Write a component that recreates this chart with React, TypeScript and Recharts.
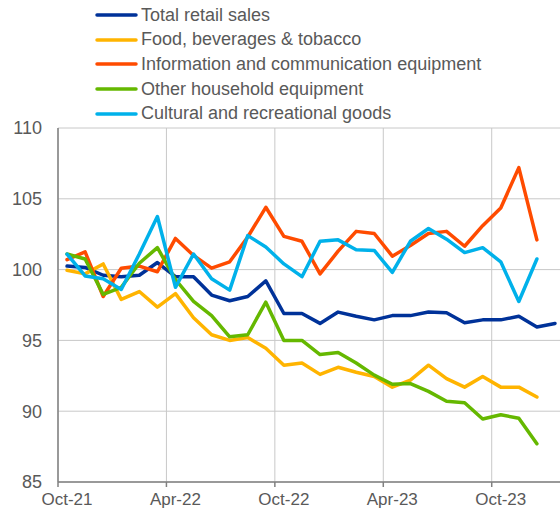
import React from 'react';
import { LineChart, Line, XAxis, YAxis, CartesianGrid, Legend } from 'recharts';

const months = [
  'Oct-21', 'Nov-21', 'Dec-21', 'Jan-22', 'Feb-22', 'Mar-22', 'Apr-22', 'May-22', 'Jun-22', 'Jul-22',
  'Aug-22', 'Sep-22', 'Oct-22', 'Nov-22', 'Dec-22', 'Jan-23', 'Feb-23', 'Mar-23', 'Apr-23', 'May-23',
  'Jun-23', 'Jul-23', 'Aug-23', 'Sep-23', 'Oct-23', 'Nov-23', 'Dec-23', 'Jan-24',
];

const tickLabels = ['Oct-21', 'Apr-22', 'Oct-22', 'Apr-23', 'Oct-23'];
const yTicks = [85, 90, 95, 100, 105, 110];

const totalRetail = [
  100.25, 100.15, 99.6, 99.5, 99.6, 100.5, 99.5, 99.5, 98.2, 97.8,
  98.1, 99.2, 96.9, 96.9, 96.2, 97.0, 96.7, 96.45, 96.75, 96.75,
  97.0, 96.95, 96.25, 96.45, 96.45, 96.7, 95.95, 96.2,
];

const food = [
  99.95, 99.7, 100.4, 97.9, 98.45, 97.35, 98.3, 96.6, 95.4, 95.0,
  95.2, 94.45, 93.25, 93.4, 92.6, 93.1, 92.75, 92.45, 91.7, 92.2,
  93.25, 92.3, 91.7, 92.45, 91.7, 91.7, 91.0,
];

const infoComm = [
  100.7, 101.25, 98.1, 100.1, 100.25, 99.85, 102.2, 101.0, 100.1, 100.55,
  102.3, 104.4, 102.35, 102.0, 99.7, 101.3, 102.7, 102.55, 100.95, 101.7,
  102.55, 102.7, 101.65, 103.1, 104.35, 107.2, 102.1,
];

const otherHousehold = [
  101.1, 100.75, 98.25, 98.75, 100.45, 101.55, 99.3, 97.75, 96.75, 95.25,
  95.4, 97.7, 95.0, 95.0, 94.0, 94.15, 93.4, 92.55, 91.9, 91.95,
  91.4, 90.7, 90.6, 89.45, 89.75, 89.5, 87.7,
];

const cultural = [
  101.1, 99.55, 99.35, 98.6, 101.1, 103.75, 98.75, 101.1, 99.35, 98.55,
  102.4, 101.6, 100.4, 99.5, 102.0, 102.1, 101.4, 101.35, 99.8, 102.0,
  102.9, 102.15, 101.2, 101.55, 100.55, 97.75, 100.75,
];

const seriesDefs = [
  { key: 'total', name: 'Total retail sales', color: '#003299', values: totalRetail },
  { key: 'food', name: 'Food, beverages & tobacco', color: '#ffb400', values: food },
  { key: 'info', name: 'Information and communication equipment', color: '#ff4b00', values: infoComm },
  { key: 'other', name: 'Other household equipment', color: '#65b800', values: otherHousehold },
  { key: 'cultural', name: 'Cultural and recreational goods', color: '#00b1ea', values: cultural },
];

const data = months.map((m, i) => {
  const row: Record<string, number | string | null> = { x: i + 0.5, month: m };
  seriesDefs.forEach((s) => {
    row[s.key] = i < s.values.length ? s.values[i] : null;
  });
  return row;
});

const xTicks = tickLabels.map((l) => months.indexOf(l));

const FONT = '"Liberation Sans", Arial, sans-serif';
const TEXT = '#595959';

const LegendContent = () => (
  <div style={{ fontFamily: FONT, fontSize: 18, color: TEXT }}>
    {seriesDefs.map((s) => (
      <div key={s.key} style={{ display: 'flex', alignItems: 'center', height: 24.6, whiteSpace: 'nowrap' }}>
        <svg width={46} height={8} style={{ display: 'block', flex: 'none' }}>
          <line x1={2} y1={4} x2={41} y2={4} stroke={s.color} strokeWidth={3.5} strokeLinecap="round" />
        </svg>
        <span style={{ marginLeft: 0 }}>{s.name}</span>
      </div>
    ))}
  </div>
);

export default function App() {
  return (
    <div style={{ position: 'absolute', left: 0, top: 0, width: 560, height: 510, overflow: 'hidden', background: '#ffffff' }}>
      <LineChart width={564} height={510} data={data} margin={{ top: 128, right: 0, bottom: 0, left: 0 }}>
        <CartesianGrid stroke="#c8c8c8" strokeWidth={1} />
        <XAxis
          dataKey="x"
          type="number"
          domain={[0, months.length]}
          ticks={xTicks}
          interval={0}
          tickFormatter={(v: number) => months[v]}
          height={28}
          tickSize={5}
          tickMargin={6}
          axisLine={{ stroke: '#808080', strokeWidth: 1.5 }}
          tickLine={{ stroke: '#808080', strokeWidth: 1.5 }}
          tick={{ fill: TEXT, fontSize: 17, fontFamily: FONT, dx: 9 }}
        />
        <YAxis
          type="number"
          domain={[85, 110]}
          ticks={yTicks}
          interval={0}
          width={58}
          tickSize={0}
          tickMargin={16}
          tickLine={false}
          axisLine={{ stroke: '#808080', strokeWidth: 1.5 }}
          tick={{ fill: TEXT, fontSize: 18, fontFamily: FONT }}
        />
        <Legend
          layout="horizontal"
          verticalAlign="middle"
          align="center"
          content={<LegendContent />}
          wrapperStyle={{ top: 3, left: 95, width: 460, height: 125 }}
        />
        {seriesDefs.map((s) => (
          <Line
            key={s.key}
            type="linear"
            dataKey={s.key}
            name={s.name}
            stroke={s.color}
            strokeWidth={3.5}
            strokeLinejoin="round"
            strokeLinecap="round"
            dot={false}
            activeDot={false}
            connectNulls={false}
            isAnimationActive={false}
          />
        ))}
      </LineChart>
    </div>
  );
}
